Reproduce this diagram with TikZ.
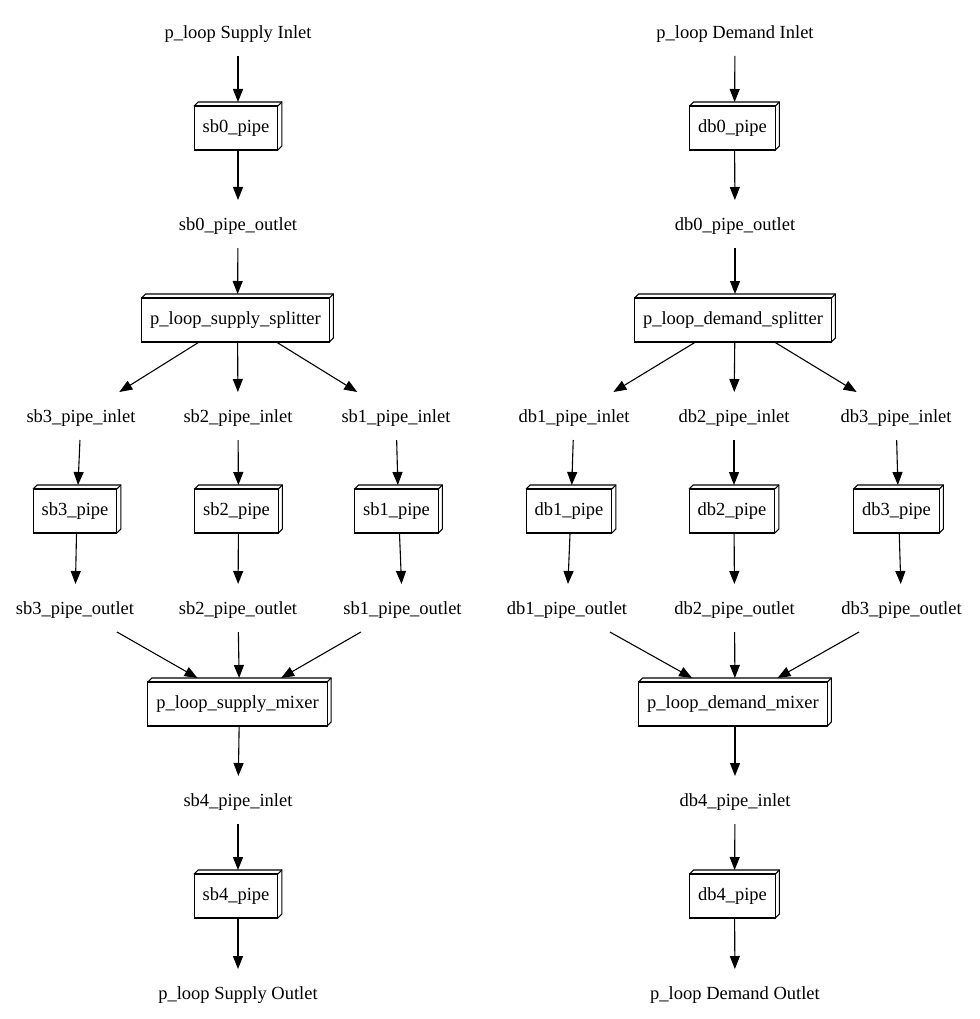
\documentclass[tikz,border=0pt]{standalone}
\usepackage{fontspec}
\setmainfont{Liberation Serif}
\usetikzlibrary{arrows.meta}
\tikzset{
    >={Triangle[length=13pt,width=10pt]},
    port/.style={inner xsep=2pt, inner ysep=0pt, minimum height=48pt, outer sep=0pt,
        text height=16.6pt, text depth=4pt},
    unit/.style={inner xsep=8.5pt, inner ysep=0pt, minimum height=48pt, outer sep=0pt,
        text height=16.6pt, text depth=4pt, execute at end node={\hspace*{4pt}}},
    flow/.style={->, line width=1.1pt},
    face/.style={line width=1.1pt, line join=miter},
}
% front face and the two receding faces of a 3d box node
\newcommand{\boxthreed}[1]{%
  \draw[face] ([yshift=-4pt]#1.north west) rectangle ([xshift=-4pt]#1.south east);
  \draw[face] ([yshift=-4pt]#1.north west) -- ([xshift=4pt]#1.north west)
      -- (#1.north east) -- ([yshift=4pt]#1.south east) -- ([xshift=-4pt]#1.south east);
  \draw[face] ([shift={(-4pt,-4pt)}]#1.north east) -- (#1.north east);
}
\begin{document}
\begin{tikzpicture}[x=1pt, y=-1pt, font=\fontsize{18.5}{22}\selectfont]
\useasboundingbox (0,0) rectangle (979,1019);

% Supply side.
\node[port] (supIn) at (238,32) {p\_loop Supply Inlet};
\node[unit] (sb0) at (238,126) {sb0\_pipe};
\node[port] (sb0-out) at (238,224) {sb0\_pipe\_outlet};
\node[unit] (supSplit) at (237.5,318) {p\_loop\_supply\_splitter};
\node[unit] (supMix) at (239.5,702) {p\_loop\_supply\_mixer};
\node[port] (sb4-in) at (238,800) {sb4\_pipe\_inlet};
\node[unit] (sb4) at (238,894) {sb4\_pipe};
\node[port] (supOut) at (238,993) {p\_loop Supply Outlet};

\foreach \n/\xi/\xb/\xo in {3/81/77/75, 2/238/238.5/238, 1/396/398.5/402.5} {
    \node[port] (sb\n-in) at (\xi,416) {sb\n\_pipe\_inlet};
    \node[unit] (sb\n) at (\xb,509) {sb\n\_pipe};
    \node[port] (sb\n-out) at (\xo,608) {sb\n\_pipe\_outlet};
    \draw[flow] (supSplit) -- (sb\n-in);
    \draw[flow] (sb\n-in) -- (sb\n);
    \draw[flow] (sb\n) -- (sb\n-out);
    \draw[flow] (sb\n-out) -- (supMix);
}
\draw[flow] (supIn) -- (sb0);
\draw[flow] (sb0) -- (sb0-out);
\draw[flow] (sb0-out) -- (supSplit);
\draw[flow] (supMix) -- (sb4-in);
\draw[flow] (sb4-in) -- (sb4);
\draw[flow] (sb4) -- (supOut);

% Demand side.
\node[port] (demIn) at (735,32) {p\_loop Demand Inlet};
\node[unit] (db0) at (734.5,126) {db0\_pipe};
\node[port] (db0-out) at (735,224) {db0\_pipe\_outlet};
\node[unit] (demSplit) at (735,318) {p\_loop\_demand\_splitter};
\node[unit] (demMix) at (735,702) {p\_loop\_demand\_mixer};
\node[port] (db4-in) at (735,800) {db4\_pipe\_inlet};
\node[unit] (db4) at (734.5,894) {db4\_pipe};
\node[port] (demOut) at (735,993) {p\_loop Demand Outlet};

\foreach \n/\xi/\xb/\xo in {1/574/571/567, 2/734/734/734.5, 3/896/898.5/901.5} {
    \node[port] (db\n-in) at (\xi,416) {db\n\_pipe\_inlet};
    \node[unit] (db\n) at (\xb,509) {db\n\_pipe};
    \node[port] (db\n-out) at (\xo,608) {db\n\_pipe\_outlet};
    \draw[flow] (demSplit) -- (db\n-in);
    \draw[flow] (db\n-in) -- (db\n);
    \draw[flow] (db\n) -- (db\n-out);
    \draw[flow] (db\n-out) -- (demMix);
}
\draw[flow] (demIn) -- (db0);
\draw[flow] (db0) -- (db0-out);
\draw[flow] (db0-out) -- (demSplit);
\draw[flow] (demMix) -- (db4-in);
\draw[flow] (db4-in) -- (db4);
\draw[flow] (db4) -- (demOut);

% Box outlines.
\foreach \b in {sb0,supSplit,sb1,sb2,sb3,supMix,sb4,db0,demSplit,db1,db2,db3,demMix,db4} {
    \boxthreed{\b}
}

\end{tikzpicture}
\end{document}
